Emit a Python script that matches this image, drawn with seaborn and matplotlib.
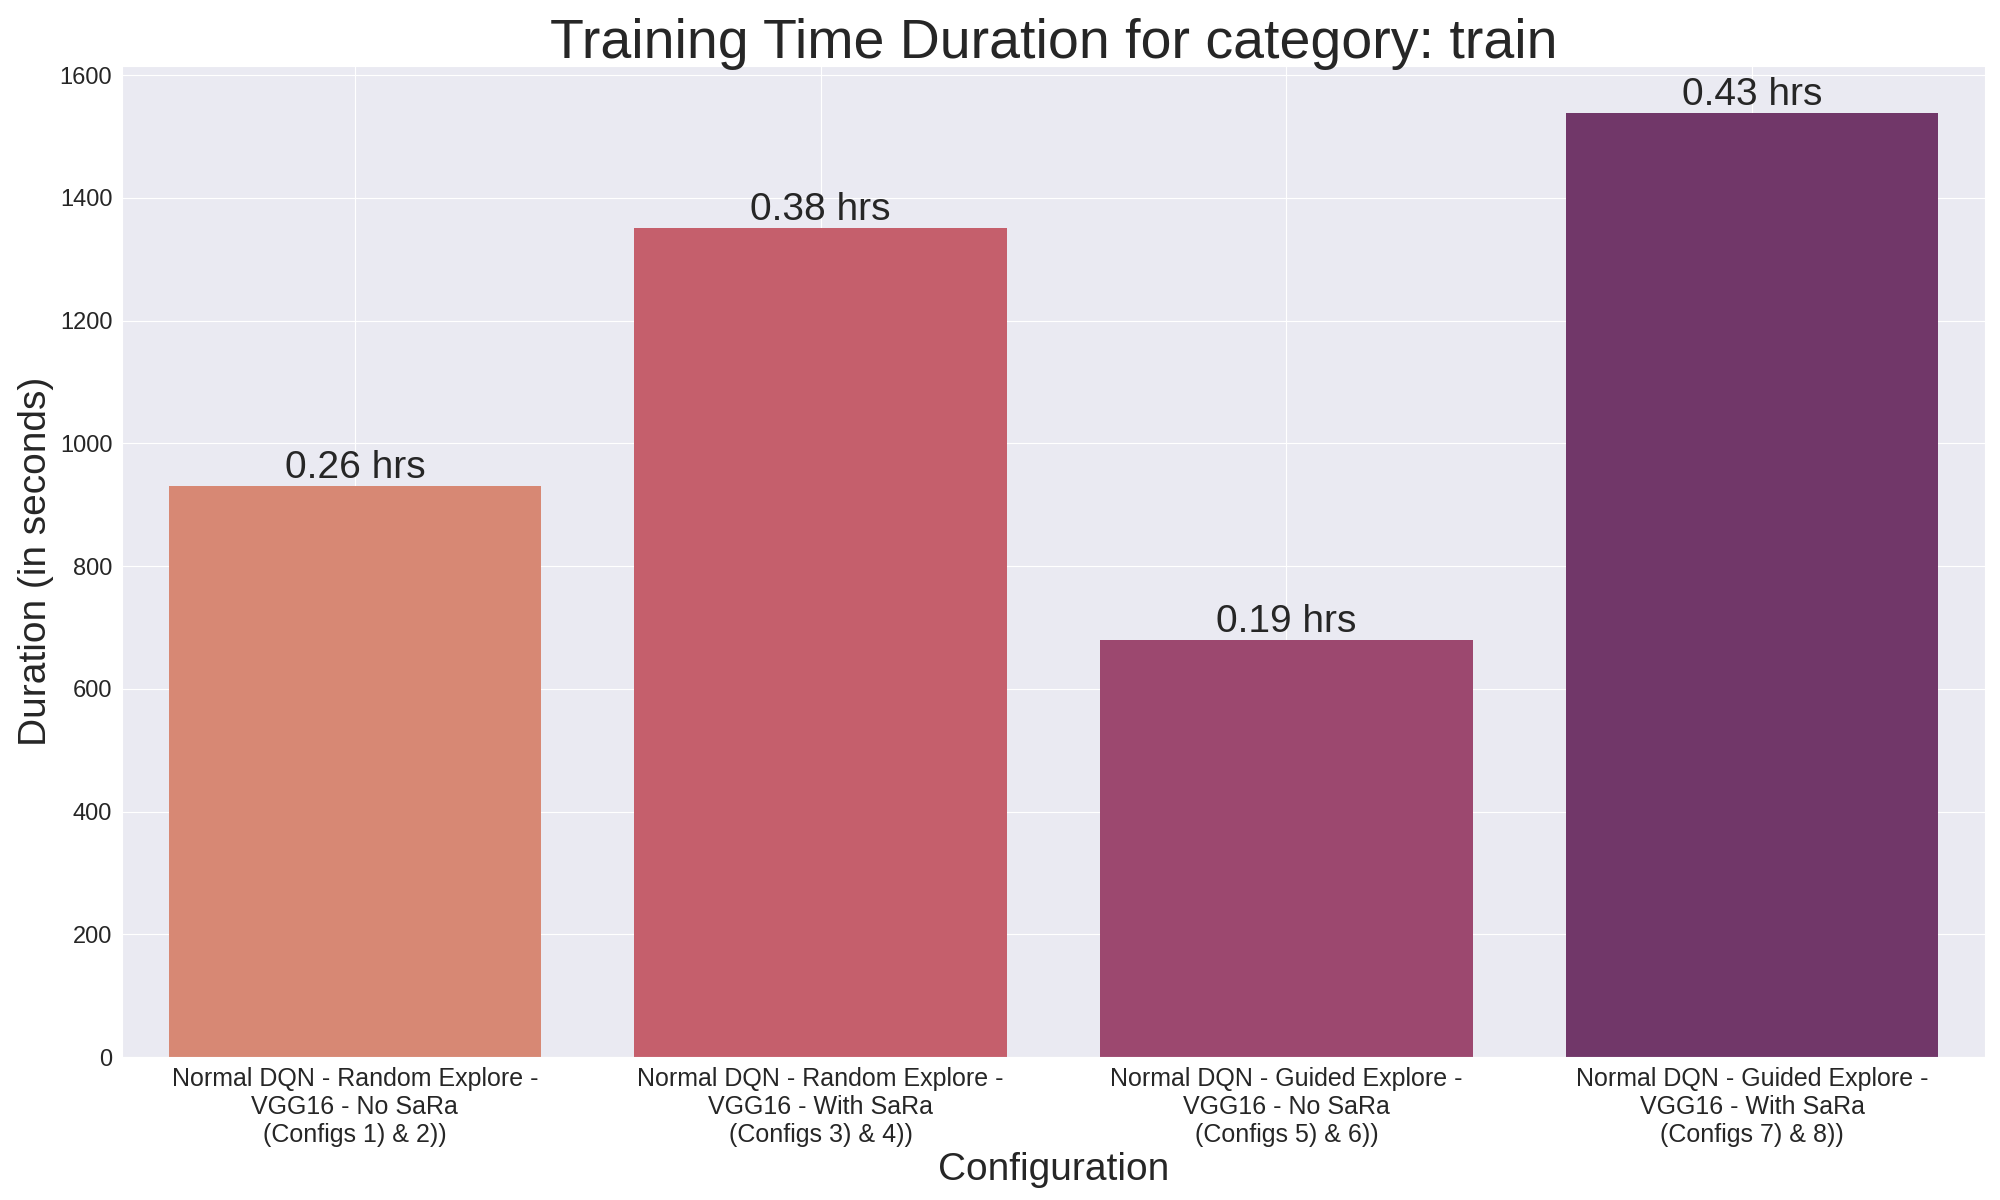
import pandas as pd
import seaborn as sns
import matplotlib.pyplot as plt

# durations (seconds)
configs = [
    "Normal DQN - Random Explore -\nVGG16 - No SaRa\n(Configs 1) & 2))",
    "Normal DQN - Random Explore -\nVGG16 - With SaRa\n(Configs 3) & 4))",
    "Normal DQN - Guided Explore -\nVGG16 - No SaRa\n(Configs 5) & 6))",
    "Normal DQN - Guided Explore -\nVGG16 - With SaRa\n(Configs 7) & 8))",
]
durations = [930, 1351, 680, 1538]
category = "train"

sns.set_style("darkgrid")
plt.rcParams['font.family'] = ['Liberation Sans', 'DejaVu Sans']

df = pd.DataFrame({"Configuration": configs, "Duration": durations})

fig = plt.figure(figsize=(20, 12), dpi=100)
ax = sns.barplot(data=df, x="Configuration", y="Duration", hue="Configuration",
                 palette="flare", legend=False, linewidth=0)
ax.xaxis.grid(True)

# label each bar with hours
for i, v in enumerate(df["Duration"]):
    ax.text(i, v, f"{v / 3600:.2f} hrs", ha="center", va="bottom", fontsize=28, color="#262626")

ax.set_title(f"Training Time Duration for category: {category}", fontsize=40, color="#262626")
ax.set_xlabel("Configuration", fontsize=28, color="#262626")
ax.set_ylabel("Duration (in seconds)", fontsize=28, color="#262626")
ax.tick_params(axis="x", labelsize=18, colors="#262626")
ax.tick_params(axis="y", labelsize=17, colors="#262626")

plt.subplots_adjust(left=0.061, right=0.9925, top=0.945, bottom=0.119)
plt.savefig("out.png", dpi=100)
plt.close()
